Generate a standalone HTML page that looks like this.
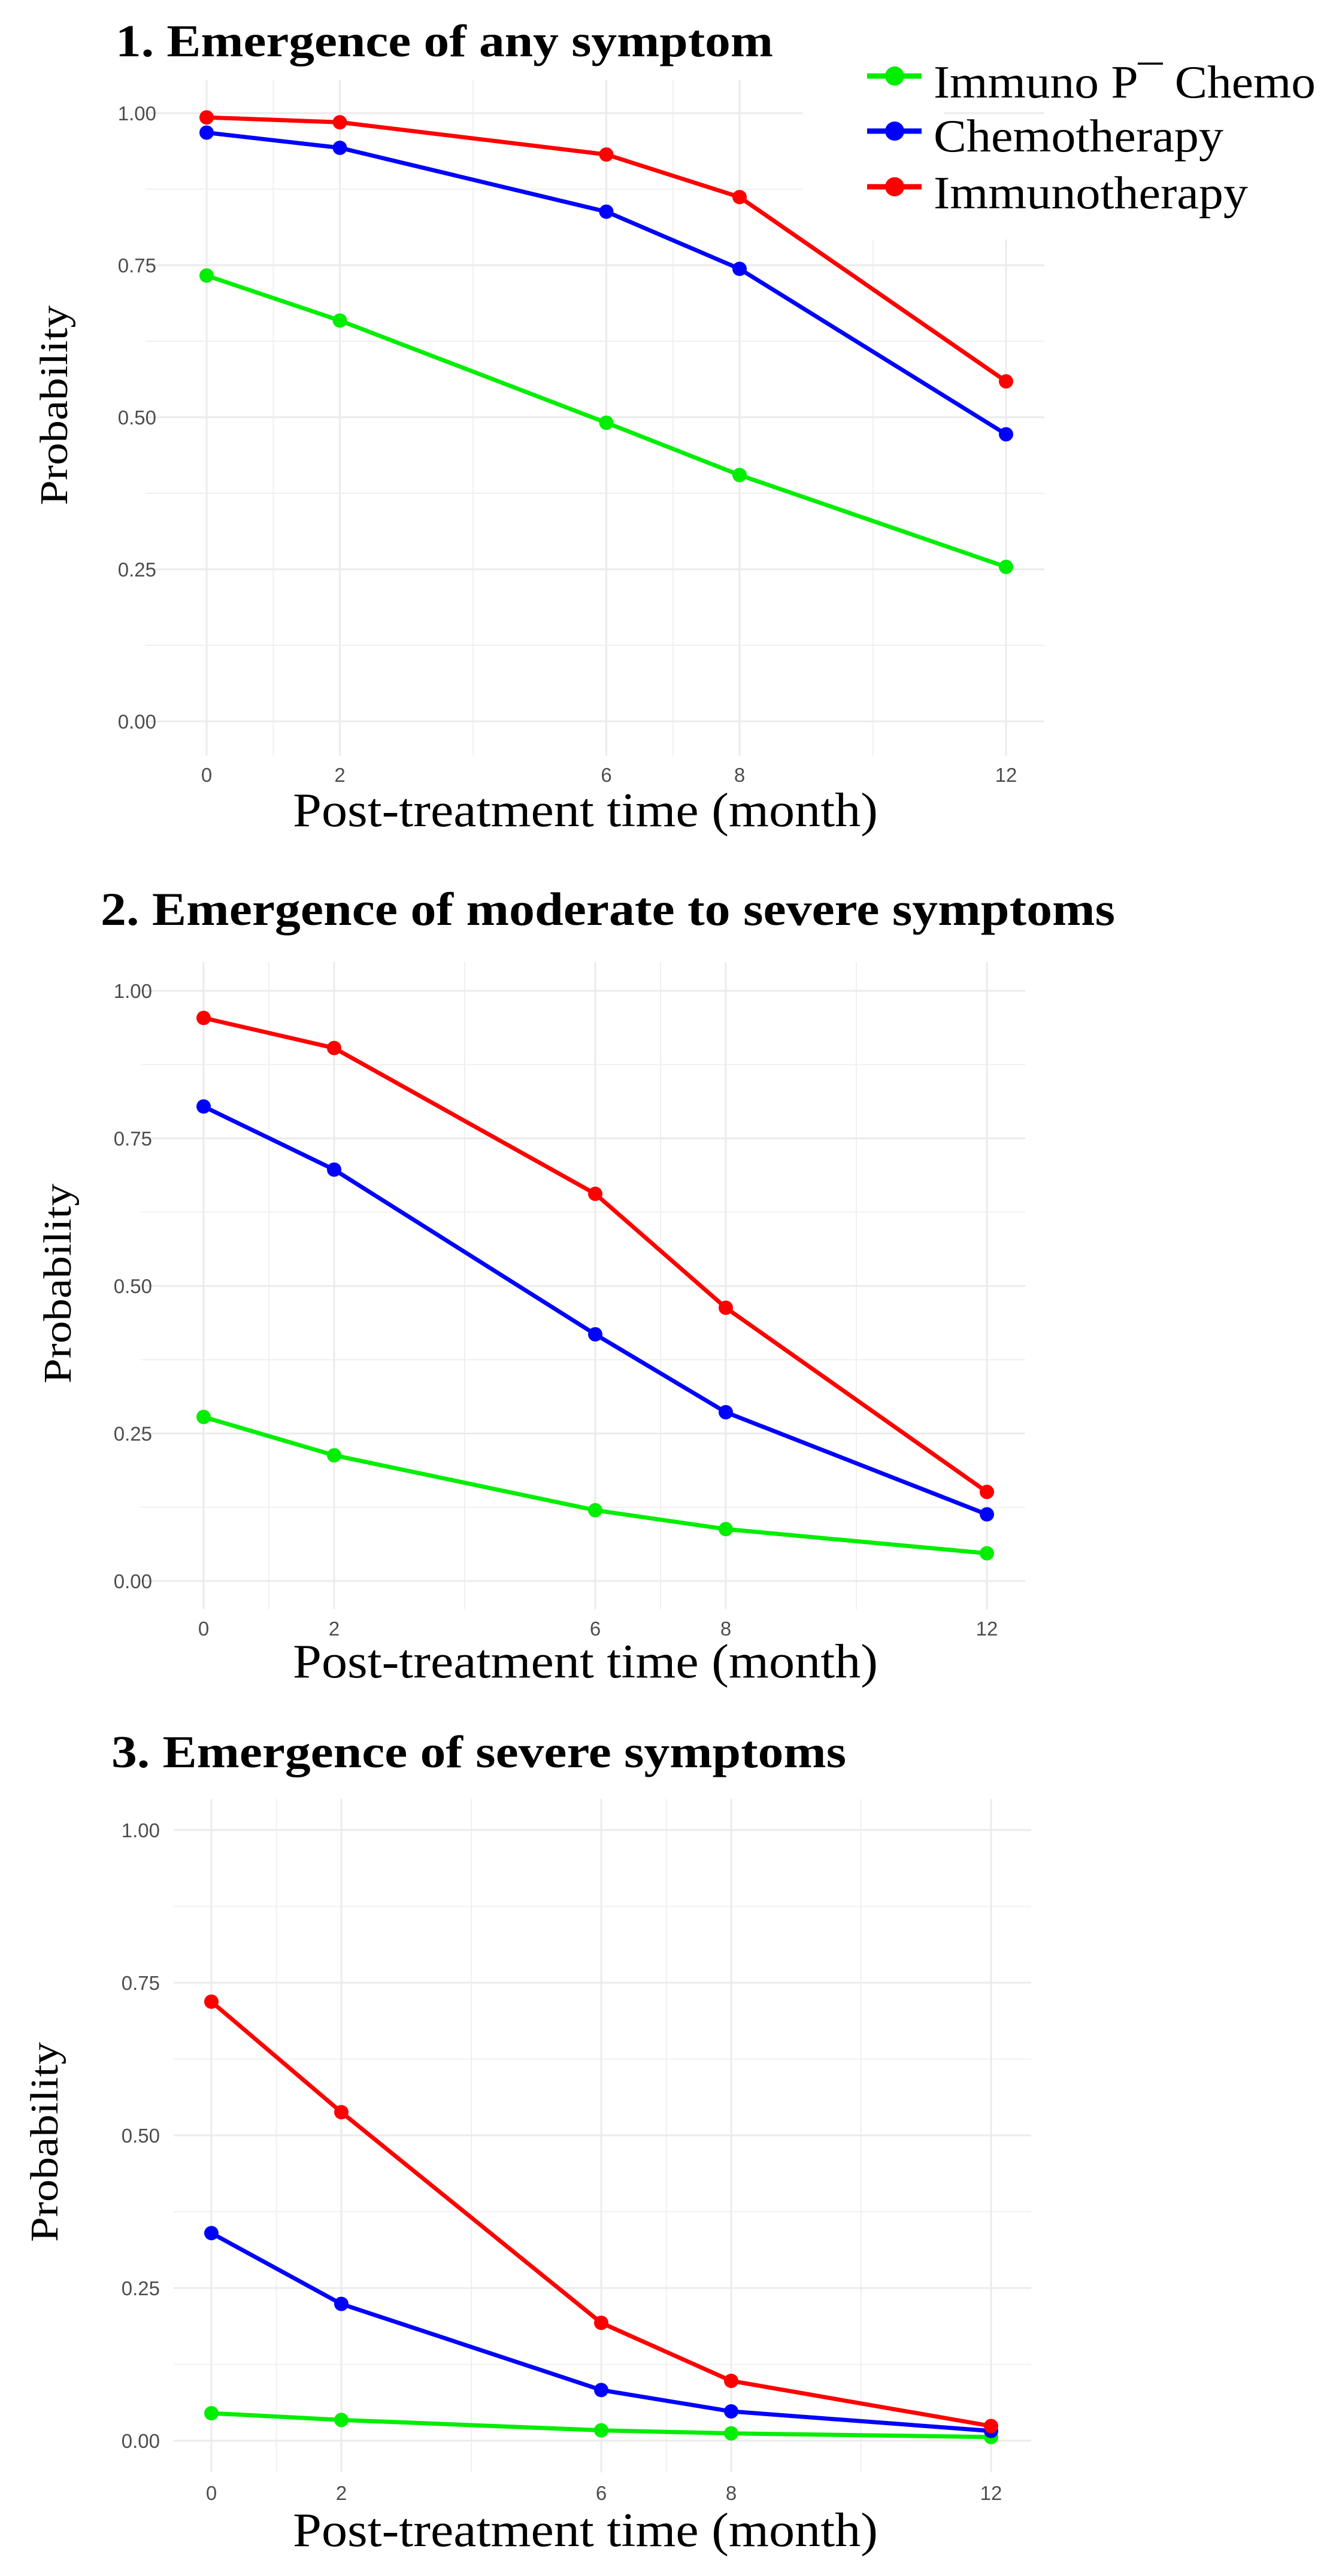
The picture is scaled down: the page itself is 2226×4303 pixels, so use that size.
<!DOCTYPE html>
<html><head><meta charset="utf-8">
<style>
html,body{margin:0;padding:0;background:#fff;}
svg{display:block;}
</style></head>
<body>
<svg id="chart" width="2226" height="4303" viewBox="0 0 2226 4303" xmlns="http://www.w3.org/2000/svg">
  <rect x="0" y="0" width="2226" height="4303" fill="#fff"/>
</svg>
<script>
const months = [0, 2, 6, 8, 12];
const xTickLabels = ["0", "2", "6", "8", "12"];
const minorMonths = [1, 4, 7, 10];
const yTicks = [0, 0.25, 0.5, 0.75, 1];
const yTickLabels = ["0.00", "0.25", "0.50", "0.75", "1.00"];
const yMinor = [0.125, 0.375, 0.625, 0.875];
const seriesNames = ["Immuno P\u00AF Chemo", "Chemotherapy", "Immunotherapy"];
const p1Combo = [0.733, 0.659, 0.491, 0.405, 0.254];
const p1Chemo = [0.968, 0.943, 0.838, 0.744, 0.472];
const p1Immuno = [0.993, 0.985, 0.932, 0.862, 0.559];
const p2Combo = [0.278, 0.213, 0.120, 0.088, 0.047];
const p2Chemo = [0.804, 0.697, 0.418, 0.286, 0.113];
const p2Immuno = [0.954, 0.903, 0.656, 0.463, 0.151];
const p3Combo = [0.045, 0.034, 0.017, 0.012, 0.006];
const p3Chemo = [0.340, 0.224, 0.083, 0.048, 0.016];
const p3Immuno = [0.719, 0.538, 0.193, 0.098, 0.024];
const panelTitles = ["1. Emergence of any symptom", "2. Emergence of moderate to severe symptoms", "3. Emergence of severe symptoms"];

const NS = "http://www.w3.org/2000/svg";
const svg = document.getElementById("chart");
const colors = ["#00ee00", "#0000ff", "#ff0000"];

function mk(tag, attrs, parent) {
  const e = document.createElementNS(NS, tag);
  for (const k in attrs) e.setAttribute(k, attrs[k]);
  (parent || svg).appendChild(e);
  return e;
}

const layouts = [
  {x0:345, x12:1680, y0:1205, y1:189, gl:243, gr:1744, gt:133, gb:1262, tickRight:261, xTickY:1306, xTitleY:1380, yTitleX:112, yTitleY:677, titleX:193, titleY:94, titleLen:1098, titleSize:76, data:[p1Combo,p1Chemo,p1Immuno]},
  {x0:340, x12:1648, y0:2641, y1:1655, gl:235, gr:1712, gt:1607, gb:2688, tickRight:254, xTickY:2732, xTitleY:2802, yTitleX:118, yTitleY:2144, titleX:168, titleY:1545, titleLen:1694, titleSize:78, data:[p2Combo,p2Chemo,p2Immuno]},
  {x0:353, x12:1655, y0:4077, y1:3057, gl:290, gr:1722, gt:3005, gb:4130, tickRight:267, xTickY:4176, xTitleY:4253, yTitleX:96, yTitleY:3578, titleX:186, titleY:2952, titleLen:1227, titleSize:76, data:[p3Combo,p3Chemo,p3Immuno]}
];

layouts.forEach((L, pi) => {
  const g = mk("g", {});
  
  
  const xs = m => L.x0 + (L.x12 - L.x0) * m / 12;
  const ys = v => L.y0 - (L.y0 - L.y1) * v;

  minorMonths.forEach(m => {
    const l = mk("line", {x1:xs(m), x2:xs(m), y1:L.gt, y2:L.gb, stroke:"#f0f0f0", "stroke-width":2}, g);
    
    
  });
  yMinor.forEach(v => {
    const l = mk("line", {x1:L.gl, x2:L.gr, y1:ys(v), y2:ys(v), stroke:"#f0f0f0", "stroke-width":2}, g);
    
    
  });
  months.forEach(m => {
    const l = mk("line", {x1:xs(m), x2:xs(m), y1:L.gt, y2:L.gb, stroke:"#ebebeb", "stroke-width":3}, g);
    
    
  });
  yTicks.forEach(v => {
    const l = mk("line", {x1:L.gl, x2:L.gr, y1:ys(v), y2:ys(v), stroke:"#ebebeb", "stroke-width":3}, g);
    
    
  });

  if (pi === 0) {
    const r = mk("rect", {x:1341, y:100, width:885, height:300, fill:"#fff"}, g);
    
    
    const s = mk("line", {x1:1577, x2:1744, y1:ys(1), y2:ys(1), stroke:"#ebebeb", "stroke-width":3}, g);
    
    
  }

  yTicks.forEach((v, i) => {
    const t = mk("text", {x:L.tickRight, y:ys(v) + 12, "text-anchor":"end", "font-family":"Liberation Sans, sans-serif", "font-size":33, fill:"#4d4d4d"}, g);
    t.textContent = yTickLabels[i];
    
    
  });
  months.forEach((m, i) => {
    const t = mk("text", {x:xs(m), y:L.xTickY, "text-anchor":"middle", "font-family":"Liberation Sans, sans-serif", "font-size":33, fill:"#4d4d4d"}, g);
    t.textContent = xTickLabels[i];
    
    
  });

  L.data.forEach((vals, si) => {
    const pts = vals.map((v, i) => xs(months[i]) + "," + ys(v)).join(" ");
    const pl = mk("polyline", {points:pts, fill:"none", stroke:colors[si], "stroke-width":7, "stroke-linejoin":"round"}, g);
    
    
    vals.forEach((v, i) => {
      const c = mk("circle", {cx:xs(months[i]), cy:ys(v), r:12, fill:colors[si]}, g);
      
      
    });
  });

  const tt = mk("text", {x:L.titleX, y:L.titleY, "font-family":"Liberation Serif, serif", "font-weight":"bold", "font-size":L.titleSize, textLength:L.titleLen, lengthAdjust:"spacingAndGlyphs", fill:"#000"}, g);
  tt.textContent = panelTitles[pi];
  
  

  const xt = mk("text", {x:489, y:L.xTitleY, "font-family":"Liberation Serif, serif", "font-size":80, textLength:977, lengthAdjust:"spacingAndGlyphs", fill:"#000"}, g);
  xt.textContent = "Post-treatment time (month)";
  
  

  const yt = mk("text", {x:0, y:0, "text-anchor":"middle", "font-family":"Liberation Serif, serif", "font-size":66, textLength:334, lengthAdjust:"spacingAndGlyphs", fill:"#000", transform:"translate(" + L.yTitleX + "," + L.yTitleY + ") rotate(-90)"}, g);
  yt.textContent = "Probability";
  
  
});

const legendY = [127, 219, 312];
const legendBase = [163, 253, 348];
const legendLen = [638, 484, 525];
seriesNames.forEach((n, i) => {
  const g = mk("g", {});
  
  
  mk("line", {x1:1448, x2:1539, y1:legendY[i], y2:legendY[i], stroke:colors[i], "stroke-width":9}, g);
  mk("circle", {cx:1494, cy:legendY[i], r:16, fill:colors[i]}, g);
  const t = mk("text", {x:1559, y:legendBase[i], "font-family":"Liberation Serif, serif", "font-size":77, textLength:legendLen[i], lengthAdjust:"spacingAndGlyphs", fill:"#000"}, g);
  t.textContent = n;
});
</script>
</body></html>
